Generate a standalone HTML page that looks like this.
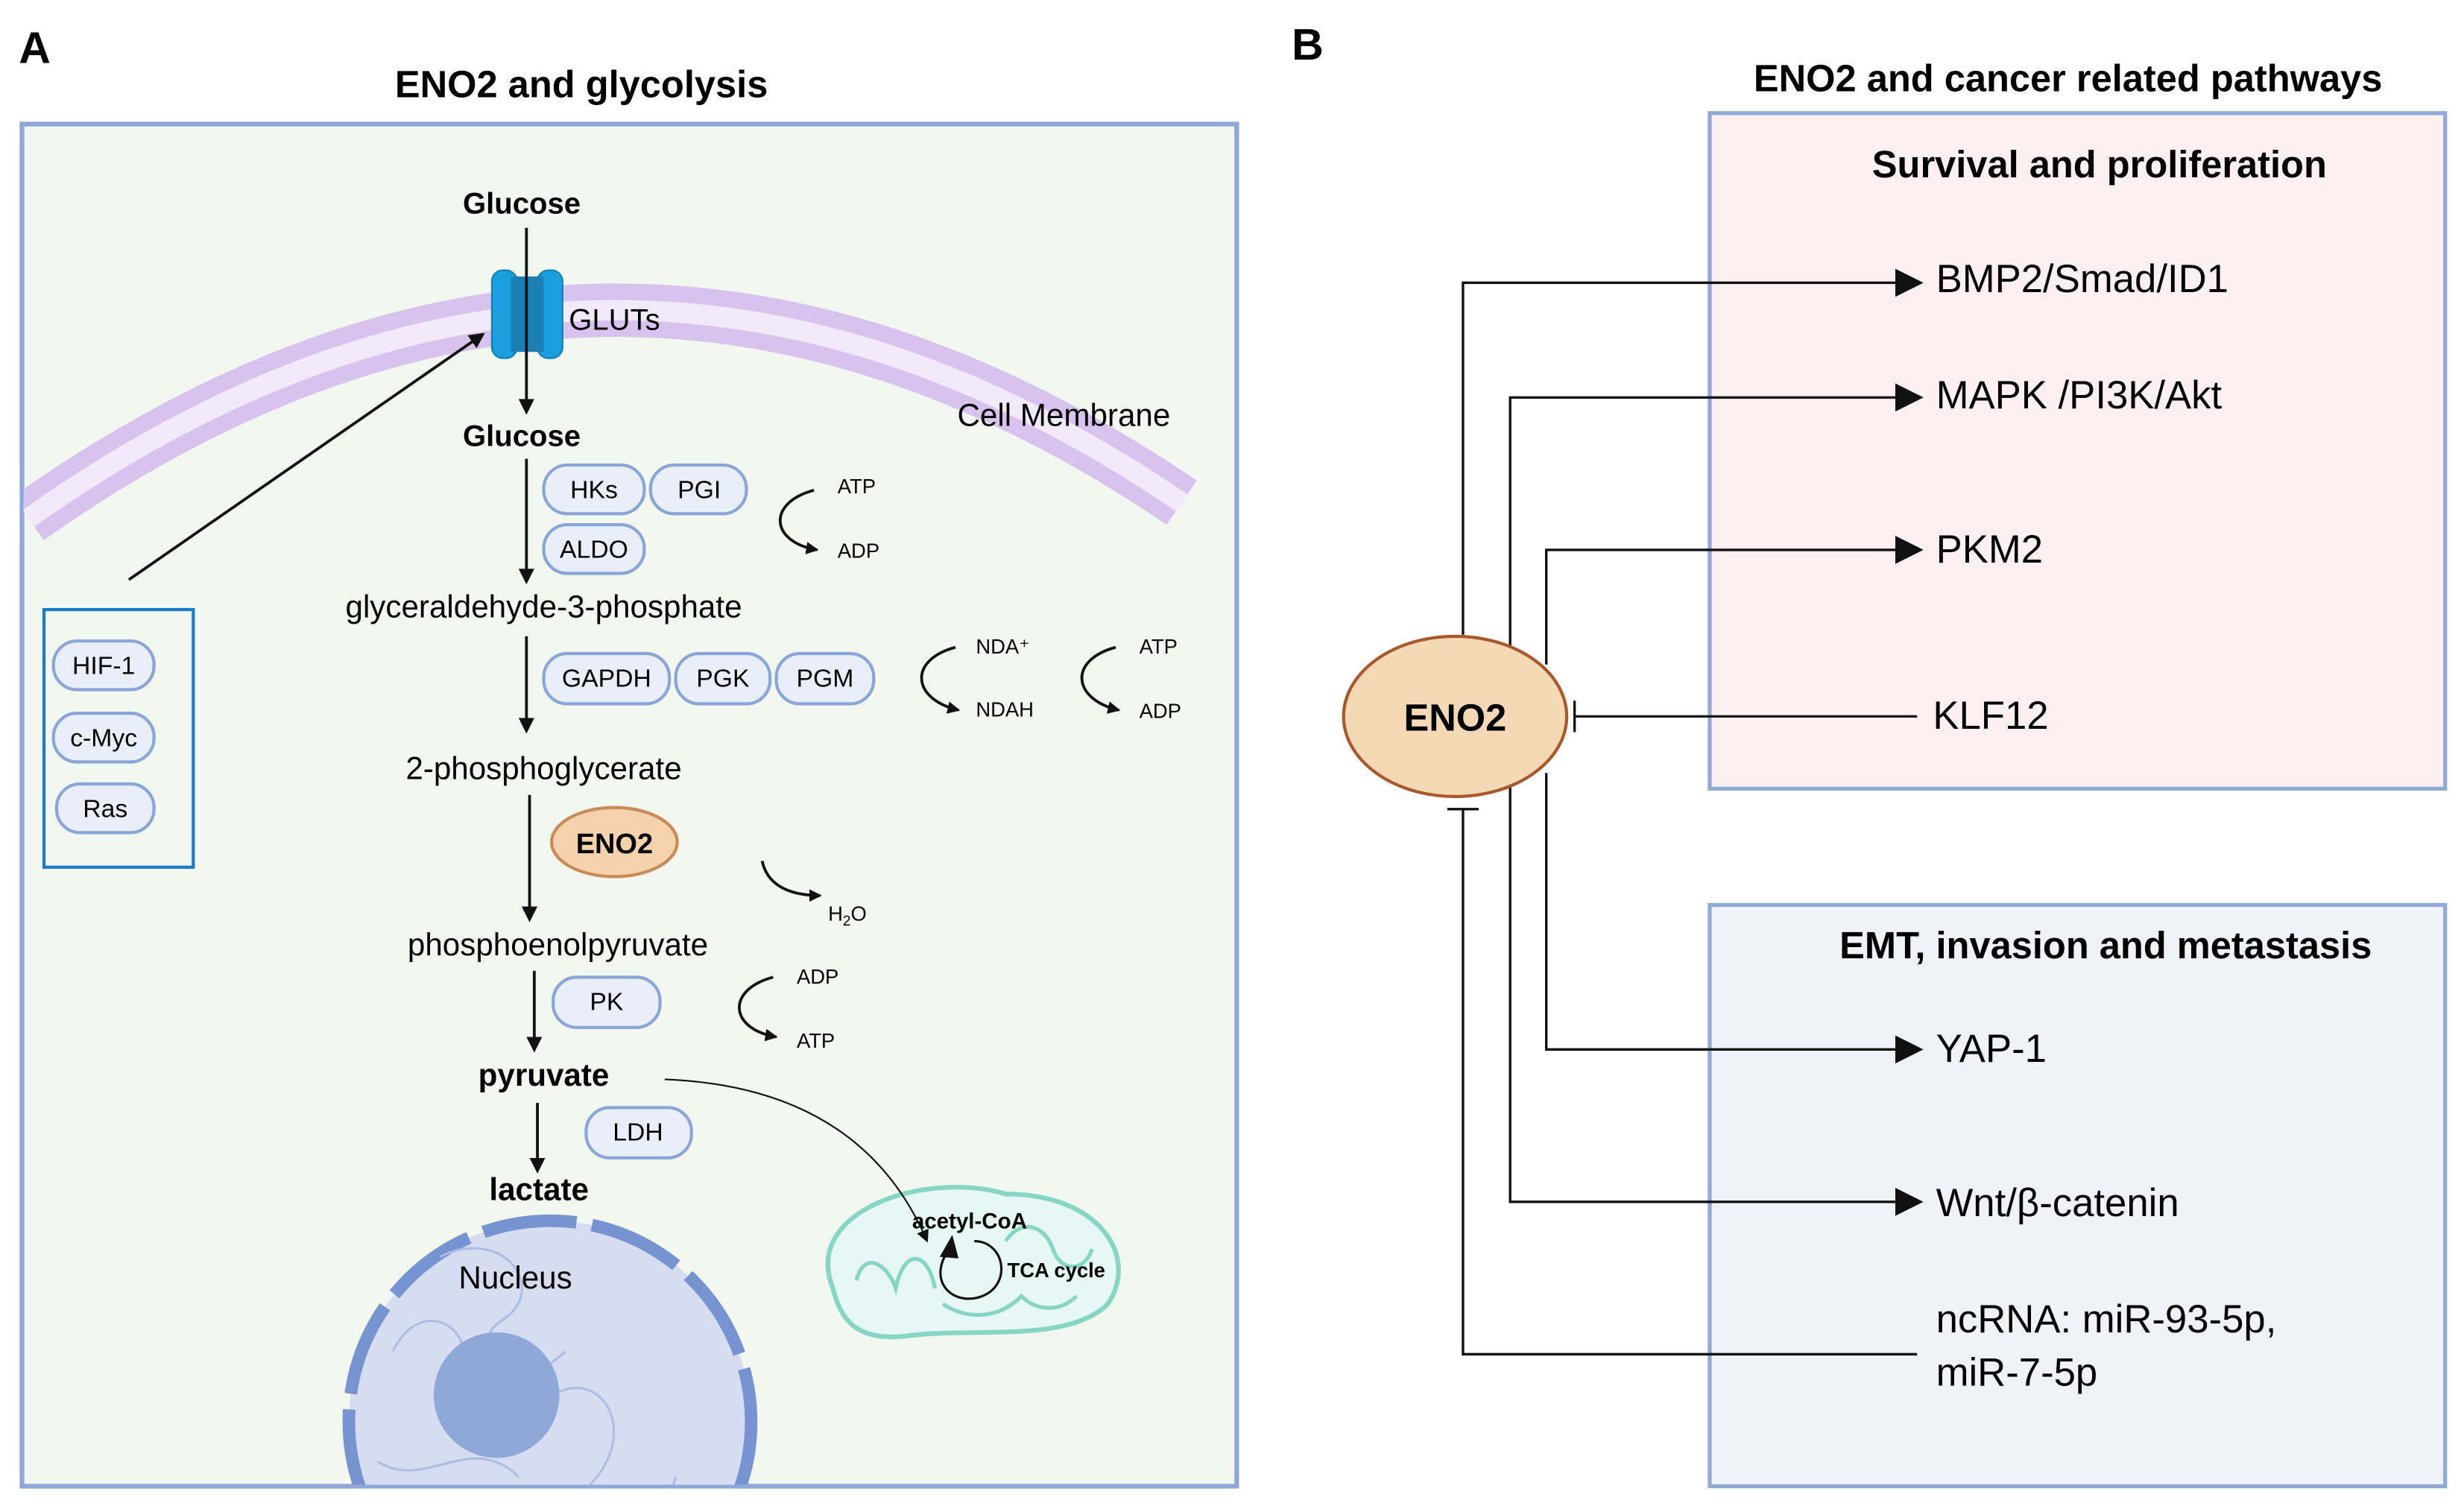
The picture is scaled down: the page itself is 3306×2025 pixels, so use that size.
<!DOCTYPE html>
<html><head><meta charset="utf-8"><style>
html,body{margin:0;padding:0;background:#fff;width:3306px;height:2025px;overflow:hidden;}
svg{display:block;position:absolute;left:0;top:0;}
text{font-family:"Liberation Sans",sans-serif;}
</style></head><body>
<svg width="3306" height="2025" viewBox="0 0 1568 960.5" preserveAspectRatio="none" xmlns="http://www.w3.org/2000/svg">
<defs>
<marker id="ah" markerWidth="10" markerHeight="10" refX="8" refY="5" orient="auto" markerUnits="userSpaceOnUse"><path d="M0,0 L10,5 L0,10 z" fill="#111"/></marker>
<marker id="ab" markerWidth="18" markerHeight="18" refX="16" refY="9" orient="auto" markerUnits="userSpaceOnUse"><path d="M0,0 L18,9 L0,18 z" fill="#111"/></marker>
<marker id="as" markerWidth="8" markerHeight="8" refX="7" refY="4" orient="auto" markerUnits="userSpaceOnUse"><path d="M0,0 L8,4 L0,8 z" fill="#111"/></marker>
<clipPath id="cb"><rect x="15" y="79" width="771" height="866"/></clipPath>
</defs>
<rect width="1568" height="961" fill="#fff"/>
<text x="12" y="40" font-size="28" font-weight="bold">A</text>
<text x="822" y="38" font-size="28" font-weight="bold">B</text>
<text x="370" y="62" font-size="24" font-weight="bold" text-anchor="middle">ENO2 and glycolysis</text>
<text x="1316" y="58" font-size="24" font-weight="bold" text-anchor="middle">ENO2 and cancer related pathways</text>

<rect x="14" y="79" width="773" height="867" fill="#f2f7ef" stroke="#8fa9d6" stroke-width="3"/>
<g clip-path="url(#cb)">
<path d="M18,330 Q385,70 752,320" fill="none" stroke="#d8c2ee" stroke-width="34"/>
<path d="M18,330 Q385,70 752,320" fill="none" stroke="#f2e9fb" stroke-width="13"/>
<circle cx="350" cy="905" r="128" fill="#d7ddf1"/>
<circle cx="350" cy="905" r="128" fill="none" stroke="#7694cf" stroke-width="8" stroke-dasharray="60 10"/>
<path d="M250,860 c20,-40 60,-10 40,20 c-30,30 20,60 50,20 c30,-40 70,0 40,40 c-30,30 40,40 50,0 M280,800 c40,-20 70,20 40,40 c-30,20 10,50 40,20 M240,930 c30,20 60,-20 90,10" fill="none" stroke="#aebde3" stroke-width="1.5"/>
<circle cx="316" cy="888" r="40" fill="#8ea8d8"/>
</g>
<text x="328" y="820" font-size="20" text-anchor="middle">Nucleus</text>

<rect x="313" y="172" width="16" height="56" rx="7" fill="#1aa0dc" stroke="#0d7fb5"/>
<rect x="342" y="172" width="16" height="56" rx="7" fill="#1aa0dc" stroke="#0d7fb5"/>
<rect x="325" y="176" width="21" height="48" fill="#1a7fb5"/>
<text x="362" y="210" font-size="19">GLUTs</text>
<text x="677" y="271" font-size="20" text-anchor="middle">Cell Membrane</text>

<text x="332" y="136" font-size="19" font-weight="bold" text-anchor="middle">Glucose</text>
<line x1="335" y1="145" x2="335" y2="262" stroke="#111" stroke-width="1.8" marker-end="url(#ah)"/>
<text x="332" y="284" font-size="19" font-weight="bold" text-anchor="middle">Glucose</text>
<line x1="335" y1="292" x2="335" y2="370" stroke="#111" stroke-width="1.8" marker-end="url(#ah)"/>

<g font-size="16" text-anchor="middle" stroke-width="2">
<rect x="346" y="296" width="64" height="31" rx="15" fill="#e9eff9" stroke="#8aa6d8"/><text x="378" y="317">HKs</text>
<rect x="414" y="296" width="61" height="31" rx="15" fill="#e9eff9" stroke="#8aa6d8"/><text x="445" y="317">PGI</text>
<rect x="346" y="334" width="64" height="31" rx="15" fill="#e9eff9" stroke="#8aa6d8"/><text x="378" y="355">ALDO</text>
<rect x="346" y="416" width="80" height="32" rx="15" fill="#e9eff9" stroke="#8aa6d8"/><text x="386" y="437">GAPDH</text>
<rect x="430" y="416" width="60" height="32" rx="15" fill="#e9eff9" stroke="#8aa6d8"/><text x="460" y="437">PGK</text>
<rect x="494" y="416" width="62" height="32" rx="15" fill="#e9eff9" stroke="#8aa6d8"/><text x="525" y="437">PGM</text>
<rect x="352" y="622" width="68" height="32" rx="15" fill="#e9eff9" stroke="#8aa6d8"/><text x="386" y="643">PK</text>
<rect x="373" y="705" width="67" height="32" rx="15" fill="#e9eff9" stroke="#8aa6d8"/><text x="406" y="726">LDH</text>
<rect x="34" y="408" width="64" height="31" rx="15" fill="#e9eff9" stroke="#8aa6d8"/><text x="66" y="429">HIF-1</text>
<rect x="34" y="454" width="64" height="31" rx="15" fill="#e9eff9" stroke="#8aa6d8"/><text x="66" y="475">c-Myc</text>
<rect x="36" y="499" width="62" height="31" rx="15" fill="#e9eff9" stroke="#8aa6d8"/><text x="67" y="520">Ras</text>
</g>

<g fill="none" stroke="#111" stroke-width="1.8">
<path d="M518,312 C488,320 490,345 520,350" marker-end="url(#as)"/>
<path d="M608,412 C578,420 580,445 610,452" marker-end="url(#as)"/>
<path d="M710,412 C680,420 682,445 712,452" marker-end="url(#as)"/>
<path d="M485,548 C488,562 500,570 522,570" marker-end="url(#as)"/>
<path d="M492,622 C462,630 464,655 494,660" marker-end="url(#as)"/>
</g>
<g font-size="13">
<text x="533" y="314">ATP</text><text x="533" y="355">ADP</text>
<text x="621" y="416">NDA⁺</text><text x="621" y="456">NDAH</text>
<text x="725" y="416">ATP</text><text x="725" y="457">ADP</text>
<text x="527" y="586">H<tspan font-size="9" dy="3">2</tspan><tspan dy="-3">O</tspan></text>
<text x="507" y="626">ADP</text><text x="507" y="667">ATP</text>
</g>

<text x="346" y="393" font-size="20" text-anchor="middle">glyceraldehyde-3-phosphate</text>
<line x1="335" y1="405" x2="335" y2="465" stroke="#111" stroke-width="1.8" marker-end="url(#ah)"/>
<text x="346" y="496" font-size="20" text-anchor="middle">2-phosphoglycerate</text>
<line x1="337" y1="506" x2="337" y2="585" stroke="#111" stroke-width="1.8" marker-end="url(#ah)"/>
<ellipse cx="391" cy="536" rx="40" ry="22" fill="#f5d2ac" stroke="#c98a58" stroke-width="2"/>
<text x="391" y="543" font-size="18" font-weight="bold" text-anchor="middle">ENO2</text>
<text x="355" y="608" font-size="20" text-anchor="middle">phosphoenolpyruvate</text>
<line x1="340" y1="618" x2="340" y2="668" stroke="#111" stroke-width="1.8" marker-end="url(#ah)"/>
<text x="346" y="691" font-size="20" font-weight="bold" text-anchor="middle">pyruvate</text>
<line x1="342" y1="702" x2="342" y2="745" stroke="#111" stroke-width="1.8" marker-end="url(#ah)"/>
<text x="343" y="764" font-size="20" font-weight="bold" text-anchor="middle">lactate</text>

<path d="M530,820 C510,770 590,745 640,760 C700,760 725,800 705,830 C680,855 620,845 580,850 C545,855 535,840 530,820 Z" fill="#e7f8f4" stroke="#86d6c6" stroke-width="3"/>
<path d="M545,815 c5,-20 20,-10 25,5 c5,-25 20,-25 25,0 M640,790 c10,-15 25,-10 30,5 c5,15 20,15 25,0 M600,830 c15,10 35,10 50,-5 c10,10 25,10 35,0" fill="none" stroke="#86d6c6" stroke-width="2.5"/>
<path d="M423,687 C500,690 560,720 590,790" fill="none" stroke="#111" stroke-width="1" marker-end="url(#as)"/>
<text x="617" y="782" font-size="14" font-weight="bold" text-anchor="middle">acetyl-CoA</text>
<path d="M604,795 C590,815 605,830 622,826 C645,820 640,790 620,790" fill="none" stroke="#111" stroke-width="1.5"/>
<path d="M598,800 L606,786 L610,801 Z" fill="#111"/>
<text x="641" y="813" font-size="13" font-weight="bold">TCA cycle</text>

<rect x="28" y="388" width="95" height="164" fill="none" stroke="#1a7ac8" stroke-width="2"/>
<line x1="82" y1="369" x2="307" y2="213" stroke="#111" stroke-width="1.8" marker-end="url(#ah)"/>

<rect x="1088" y="72" width="468" height="430" fill="#fdf0f3" stroke="#8fa9d6" stroke-width="2.5"/>
<rect x="1088" y="576" width="468" height="370" fill="#eff2f8" stroke="#8fa9d6" stroke-width="2.5"/>
<text x="1336" y="113" font-size="24" font-weight="bold" text-anchor="middle">Survival and proliferation</text>
<text x="1340" y="610" font-size="24" font-weight="bold" text-anchor="middle">EMT, invasion and metastasis</text>

<g fill="none" stroke="#111" stroke-width="1.6">
<polyline points="931,404 931,180 1222,180" marker-end="url(#ab)"/>
<polyline points="961,412 961,253 1222,253" marker-end="url(#ab)"/>
<polyline points="984,423 984,350 1222,350" marker-end="url(#ab)"/>
<line x1="1220" y1="456" x2="1002" y2="456"/>
<line x1="1002" y1="446" x2="1002" y2="466"/>
<polyline points="984,492 984,668 1222,668" marker-end="url(#ab)"/>
<polyline points="961,500 961,765 1222,765" marker-end="url(#ab)"/>
<polyline points="1220,862 931,862 931,515"/>
<line x1="921" y1="515" x2="941" y2="515"/>
</g>
<ellipse cx="926" cy="456" rx="71" ry="51" fill="#f5d9b6" stroke="#a9582a" stroke-width="2"/>
<text x="926" y="465" font-size="24" font-weight="bold" text-anchor="middle">ENO2</text>
<g font-size="25">
<text x="1232" y="186">BMP2/Smad/ID1</text>
<text x="1232" y="260">MAPK /PI3K/Akt</text>
<text x="1232" y="358">PKM2</text>
<text x="1230" y="464">KLF12</text>
<text x="1232" y="676">YAP-1</text>
<text x="1232" y="774">Wnt/β-catenin</text>
<text x="1232" y="848">ncRNA: miR-93-5p,</text>
<text x="1232" y="882">miR-7-5p</text>
</g>
</svg>
</body></html>
